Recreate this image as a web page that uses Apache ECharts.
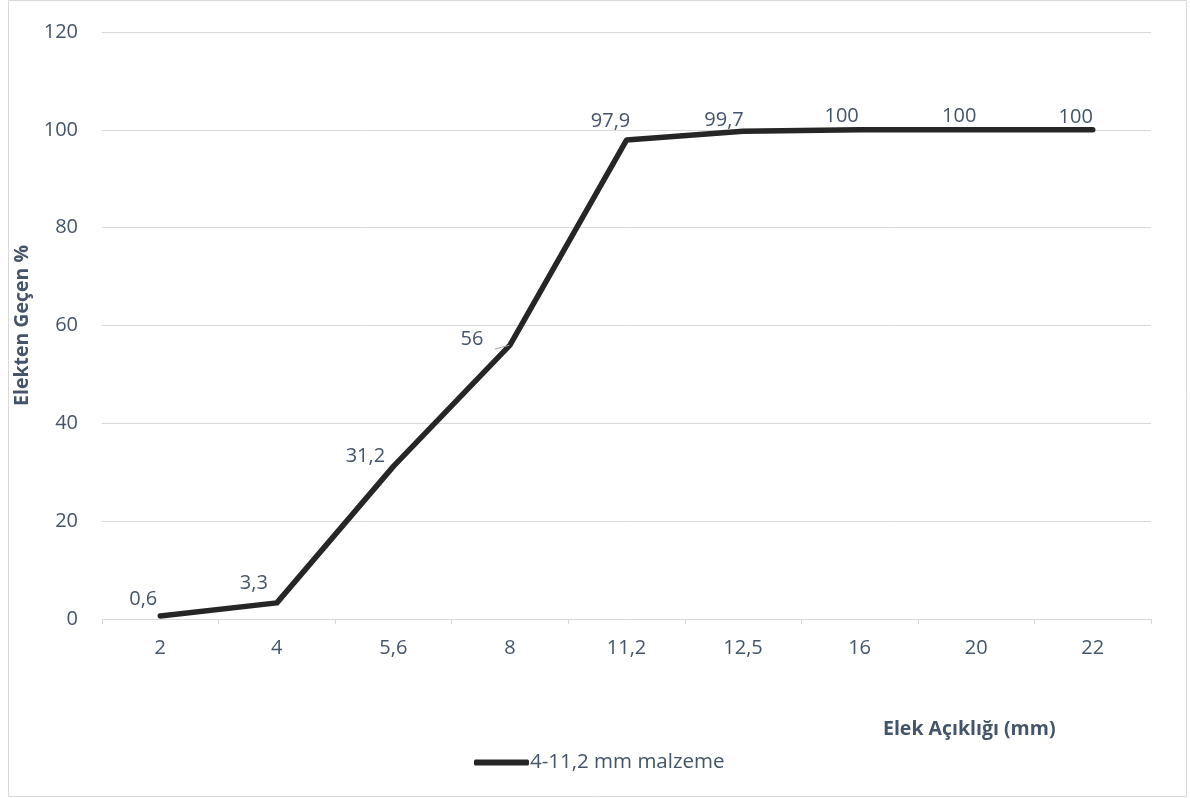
<!DOCTYPE html>
<html>
<head>
<meta charset="utf-8">
<script src="https://cdn.jsdelivr.net/npm/echarts@6/dist/echarts.min.js"></script>
<style>html,body{margin:0;padding:0;background:#fff}#c{width:1190px;height:798px}</style>
</head>
<body>
<div id="c"></div>
<script>
var categories = ['2', '4', '5,6', '8', '11,2', '12,5', '16', '20', '22'];
var passing = [0.6, 3.3, 31.2, 56, 97.9, 99.7, 100, 100, 100];
var valueLabels = ['0,6', '3,3', '31,2', '56', '97,9', '99,7', '100', '100', '100'];
var yTicks = [0, 20, 40, 60, 80, 100, 120];
var seriesName = '4-11,2 mm malzeme';
// label placement (styling only)
var labelOffsets = [[-17,-17],[-23,-20],[-28,-10],[-38,-6],[-16,-19],[-19,-11],[-18,-14],[-17,-14],[-17,-13]];

var txt = '#44546A';
var grid = '#D9D9D9';
var font = 'Open Sans';

var chart = echarts.init(document.getElementById('c'), null, {renderer: 'canvas'});
var data = passing.map(function (v, i) {
  var d = {
    value: v,
    label: {offset: labelOffsets[i], formatter: valueLabels[i]}
  };
  if (valueLabels[i] === '56') {
    d.labelLine = {show: true, lineStyle: {color: '#A6A6A6', width: 1}};
  }
  return d;
});
chart.setOption({
  animation: false,
  backgroundColor: '#fff',
  textStyle: {fontFamily: font},
  graphic: [{
    type: 'rect', shape: {x: 8.5, y: 0.5, width: 1178, height: 796},
    style: {fill: 'none', stroke: grid, lineWidth: 1}, silent: true
  }, {
    type: 'text', left: 883, top: 719,
    style: {text: 'Elek Açıklığı (mm)', fill: txt, fontSize: 19.5, fontWeight: 'bold', fontFamily: font}
  }],
  grid: {left: 102, right: 39, top: 32, bottom: 179},
  legend: {
    left: 469, top: 747,
    data: [{name: seriesName, icon: 'roundRect'}],
    itemWidth: 55, itemHeight: 6, itemGap: 0,
    textStyle: {color: txt, fontSize: 20.5, fontFamily: font, padding: [0, 0, 0, -4]}
  },
  xAxis: {
    type: 'category', data: categories,
    axisLine: {lineStyle: {color: grid, width: 1}},
    axisTick: {show: true, length: 5, lineStyle: {color: grid}},
    axisLabel: {color: txt, fontSize: 20, margin: 19, fontFamily: font},
    splitLine: {show: false}
  },
  yAxis: {
    type: 'value', min: 0, max: 120, interval: 20,
    name: 'Elekten Geçen %', nameLocation: 'middle', nameGap: 64,
    nameTextStyle: {color: txt, fontSize: 19.5, fontWeight: 'bold', fontFamily: font},
    axisLine: {show: false}, axisTick: {show: false},
    axisLabel: {color: txt, fontSize: 20, margin: 24, fontFamily: font,
      formatter: function (v) { return yTicks.indexOf(v) >= 0 ? String(v) : ''; }},
    splitLine: {lineStyle: {color: grid, width: 1}}
  },
  series: [{
    name: seriesName, type: 'line', data: data,
    symbol: 'circle', symbolSize: 1, showSymbol: true,
    itemStyle: {color: '#262626'},
    lineStyle: {color: '#262626', width: 5.5, cap: 'round', join: 'round'},
    label: {show: true, position: 'inside', color: txt, fontSize: 20, fontFamily: font},
    emphasis: {disabled: true}
  }]
});
</script>
</body>
</html>
